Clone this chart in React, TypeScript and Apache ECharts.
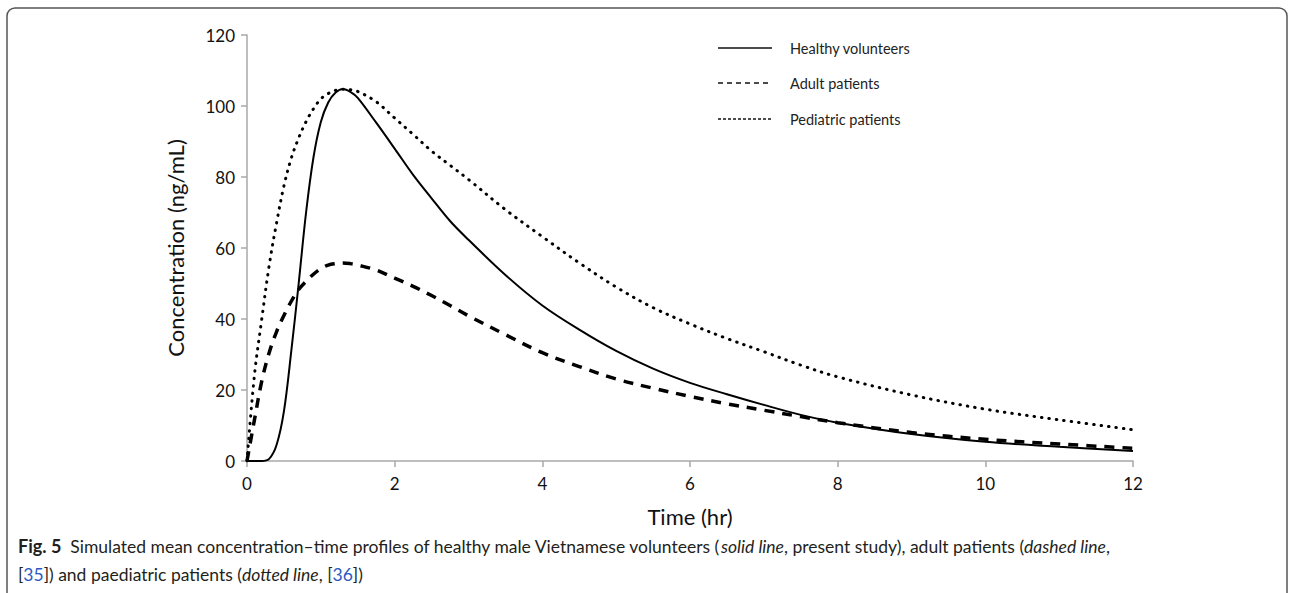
import React, { useEffect, useRef } from "react";
import * as echarts from "echarts";

const timeHr = [0, 0.1, 0.2, 0.3, 0.4, 0.5, 0.6, 0.7, 0.8, 0.9, 1.0, 1.1, 1.2, 1.3, 1.4, 1.5, 1.75, 2, 2.25, 2.5, 2.75, 3, 3.5, 4, 4.5, 5, 5.5, 6, 6.5, 7, 7.5, 8, 9, 10, 11, 12];
const healthy = [0, 0, 0, 0.6, 4.5, 14, 31, 50, 70, 85.5, 95.5, 101, 103.8, 104.8, 104, 102.3, 95.3, 88, 80.6, 74, 67.6, 62.3, 52.4, 43.8, 37, 31, 26, 22, 18.8, 15.8, 13, 10.8, 7.6, 5.4, 4.0, 2.8];
const adult = [0, 11.5, 22.5, 30.5, 36.4, 41, 45, 48.3, 50.6, 52.6, 54.2, 55.2, 55.6, 55.8, 55.6, 55.2, 53.8, 51.5, 49.2, 46.6, 43.8, 40.9, 35.6, 30.5, 26.6, 23.1, 20.5, 18.2, 16.1, 14.3, 12.5, 10.8, 8.0, 6.1, 4.8, 3.6];
const pediatric = [0, 24, 40, 55, 67, 77.5, 85.3, 91, 95.6, 99.2, 102, 103.5, 104.4, 104.7, 104.6, 104.1, 101.2, 96.6, 92, 87.3, 83.3, 79.3, 70.8, 63.2, 55.8, 49, 43.2, 38.6, 34.5, 30.8, 27, 23.7, 18.6, 14.6, 11.6, 8.8];
const seriesNames = ["Healthy volunteers", "Adult patients", "Pediatric patients"];
const legendDash: (number[] | null)[] = [null, [5, 4], [3, 2]];
const yTicks = [0, 20, 40, 60, 80, 100, 120];
const xTicks = [0, 2, 4, 6, 8, 10, 12];

const FONT = "Lato, 'Noto Sans', sans-serif";

export default function App() {
  const ref = useRef<HTMLDivElement>(null);
  useEffect(() => {
    if (!ref.current) return;
    const chart = echarts.init(ref.current, null, { renderer: "svg" });
    const pair = (vals: number[]) => timeHr.map((t, i) => [t, vals[i]]);
    const legendRows = [48, 83, 119];
    const legendGraphics: any[] = [];
    seriesNames.forEach((name, i) => {
      legendGraphics.push({
        type: "line",
        shape: { x1: 718, y1: legendRows[i], x2: 772, y2: legendRows[i] },
        style: { stroke: "#111", lineWidth: 1.5, lineDash: legendDash[i] || null },
        silent: true,
      });
      legendGraphics.push({
        type: "text",
        x: 790,
        y: legendRows[i],
        style: {
          text: name,
          fontSize: 14.5,
          fontFamily: FONT,
          fill: "#222",
          verticalAlign: "middle",
          align: "left",
        },
        silent: true,
      });
    });
    chart.setOption({
      animation: false,
      backgroundColor: "#ffffff",
      textStyle: { fontFamily: FONT },
      grid: { left: 247, top: 35, right: 157, bottom: 132, containLabel: false },
      xAxis: {
        type: "value",
        min: xTicks[0],
        max: xTicks[xTicks.length - 1],
        interval: 2,
        name: "Time (hr)",
        nameLocation: "middle",
        nameGap: 44,
        nameTextStyle: { fontSize: 22, color: "#111", fontFamily: FONT },
        axisLine: { lineStyle: { color: "#a8a8a8", width: 1.5 } },
        axisTick: { show: true, length: 6, lineStyle: { color: "#a8a8a8", width: 1.5 } },
        axisLabel: { fontSize: 17, color: "#111", margin: 14, fontFamily: FONT },
        splitLine: { show: false },
      },
      yAxis: {
        type: "value",
        min: yTicks[0],
        max: yTicks[yTicks.length - 1],
        interval: 20,
        name: "Concentration (ng/mL)",
        nameLocation: "middle",
        nameGap: 61,
        nameTextStyle: { fontSize: 22, color: "#111", fontFamily: FONT },
        axisLine: { show: true, lineStyle: { color: "#a8a8a8", width: 1.5 } },
        axisTick: { show: true, length: 6, lineStyle: { color: "#a8a8a8", width: 1.5 } },
        axisLabel: { fontSize: 17, color: "#111", margin: 12, fontFamily: FONT },
        splitLine: { show: false },
      },
      series: [
        {
          name: seriesNames[0],
          type: "line",
          data: pair(healthy),
          smooth: 0.35,
          symbol: "none",
          lineStyle: { color: "#000", width: 2 },
          z: 3,
        },
        {
          name: seriesNames[1],
          type: "line",
          data: pair(adult),
          smooth: 0.35,
          symbol: "none",
          lineStyle: { color: "#000", width: 3.5, type: [10, 8] },
          z: 2,
        },
        {
          name: seriesNames[2],
          type: "line",
          data: pair(pediatric),
          smooth: 0.35,
          symbol: "none",
          lineStyle: { color: "#000", width: 3, type: [0.5, 7], cap: "round" },
          z: 1,
        },
      ],
      graphic: [
        {
          type: "rect",
          shape: { x: 7, y: 8, width: 1280, height: 620, r: 8 },
          style: { fill: "none", stroke: "#555", lineWidth: 1.5 },
          silent: true,
        },
        ...legendGraphics,
        {
          type: "text",
          x: 18,
          y: 537,
          style: {
            text:
              "{b|Fig. 5}  Simulated mean concentration–time profiles of healthy male Vietnamese volunteers ({i|solid line}, present study), adult patients ({i|dashed line},",
            fontSize: 17.5,
            fontFamily: FONT,
            fill: "#231f20",
            rich: {
              b: { fontWeight: "bold", fontSize: 18, fill: "#231f20", fontFamily: FONT },
              i: { fontStyle: "italic", fontSize: 17.5, fill: "#231f20", fontFamily: FONT },
            },
          },
        },
        {
          type: "text",
          x: 18,
          y: 565,
          style: {
            text: "[{l|35}]) and paediatric patients ({i|dotted line}, [{l|36}])",
            fontSize: 17.5,
            fontFamily: FONT,
            fill: "#231f20",
            rich: {
              l: { fontSize: 17.5, fill: "#2b59c3", fontFamily: FONT },
              i: { fontStyle: "italic", fontSize: 17.5, fill: "#231f20", fontFamily: FONT },
            },
          },
        },
      ],
    });
    return () => chart.dispose();
  }, []);
  return <div ref={ref} style={{ position: "absolute", left: 0, top: 0, width: 1290, height: 593 }} />;
}
